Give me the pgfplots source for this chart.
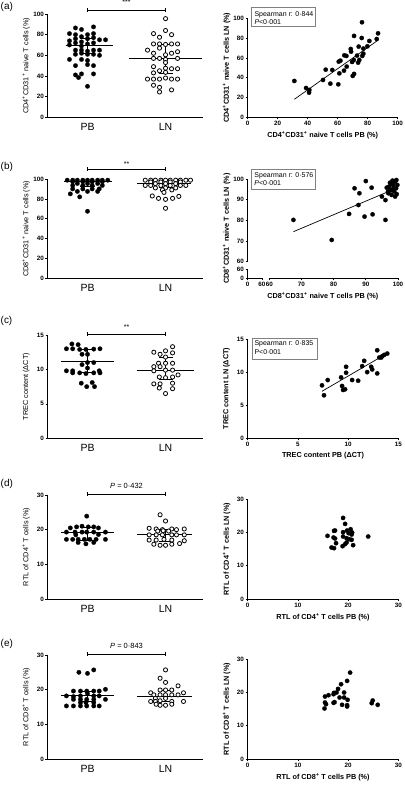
\documentclass[border=0pt]{standalone}
\usepackage{fontspec}
\setmainfont{Liberation Sans}
\usepackage{pgfplots}
\pgfplotsset{compat=1.18}
\pgfplotsset{
  base/.style={scale only axis, anchor=south west, axis lines=left,
    axis line style={-, line width=0.8pt},
    tick align=outside, major tick length=2.2bp,
    every tick/.style={black, line width=0.7pt},
    enlargelimits=false, clip=false,
    /pgf/number format/assume math mode=true,
    ticklabel style={font=\bfseries\fontsize{6.3}{7}\selectfont, inner sep=1.5bp},
    label style={font=\fontsize{7.3}{8.5}\selectfont},
  },
  leftp/.style={base, width=155.3bp, xmin=0.49, xmax=2.48, xtick={1,2}, xticklabels={PB,LN},
    xticklabel style={font=\fontsize{10.5}{12}\selectfont, yshift=-2bp},
    x tick style={draw=none},
    ylabel style={at={(axis description cs:-0.138,0.5)}, anchor=center},
  },
  rightp/.style={base,
    xlabel style={at={(axis description cs:0.5,0)}, yshift=-17.8bp, anchor=center, font=\bfseries\fontsize{7.3}{8.5}\selectfont},
    ylabel style={at={(axis description cs:-0.14,0.5)}, anchor=center, font=\bfseries\fontsize{7.3}{8.5}\selectfont},
  },
  pbdot/.style={only marks, mark=*, mark size=2.25pt, mark options={fill=black, draw=black, line width=0.2pt}},
  lnring/.style={only marks, mark=*, mark size=2.1pt, mark options={fill=white, draw=black, line width=0.8pt}},
  stat/.style={black, line width=0.9pt, no marks},
  sdot/.style={only marks, mark=*, mark size=2.2pt, mark options={fill=black, draw=black, line width=0.2pt}},
  reg/.style={black, line width=0.7pt, no marks},
}
\tikzset{brk/.style={line width=0.7pt, black}}
\newcommand{\sfont}{\fontsize{7}{8}\selectfont}
\newcommand{\pfont}{\fontsize{7.5}{9}\selectfont}
\begin{document}
\begin{tikzpicture}
\useasboundingbox (0,0) rectangle (405bp,785bp);
\node[anchor=west, font=\fontsize{10}{12}\selectfont, inner sep=0] at (0.5bp,778.3bp) {(a)};
\node[anchor=west, font=\fontsize{10}{12}\selectfont, inner sep=0] at (0.5bp,618.3bp) {(b)};
\node[anchor=west, font=\fontsize{10}{12}\selectfont, inner sep=0] at (0.5bp,464bp) {(c)};
\node[anchor=west, font=\fontsize{10}{12}\selectfont, inner sep=0] at (0.5bp,301bp) {(d)};
\node[anchor=west, font=\fontsize{10}{12}\selectfont, inner sep=0] at (0.5bp,141bp) {(e)};

% ---------------- (a) left
\begin{axis}[leftp, at={(47.7bp,667.7bp)}, height=103.3bp, ymin=0, ymax=100, ytick={0,20,40,60,80,100},
  ylabel={CD4\textsuperscript{+}CD31\textsuperscript{+} naive T cells (\%)}]
\addplot[pbdot] coordinates {
(0.846,86.5)(0.923,85)(1.077,87.5)
(0.769,81)(0.846,80)(0.923,78)(1.0,80)(1.077,81)
(0.846,76)(0.923,73)(1.0,76)(1.077,77)(1.154,75)
(0.769,74)(0.846,72)(1.0,71)(1.077,72)(1.231,75)
(0.769,70)(0.923,69)
(0.846,65)(0.923,65)(1.0,64)(1.077,65)(1.154,65)
(0.846,61)(0.923,62)(1.0,61)(1.077,61)(1.154,60)
(0.769,56)(0.923,56)(1.0,55)
(0.846,50)(1.0,51)(1.077,50)
(0.923,42)(1.077,42)(0.846,41)
(0.885,38.5)
(1.0,30)};
\addplot[lnring] coordinates {
(2.0,95.5)(2.0,84)
(1.846,81)(2.077,80)
(1.923,77.5)
(1.846,71)(1.923,71)(2.0,70.5)(2.077,71)(2.154,71)
(1.769,65)(1.923,67)
(1.846,62)(2.0,60.5)(2.077,62)(2.154,63.5)
(1.846,57)(1.923,57)(2.0,56)(2.154,57)
(2.0,53)(1.846,49)(2.0,47.5)
(1.923,45)(2.077,47)(2.154,47)
(1.846,43)(2.0,43.5)
(1.769,37)(1.846,37)(1.923,37)(2.0,38)(2.077,37)(2.154,37)
(1.846,31)(1.923,29)
(1.923,24.5)(2.077,26.5)};
\addplot[stat] coordinates {(0.72,69.4)(1.33,69.4)};
\addplot[stat] coordinates {(1,61.5)(1,76.5)};
\addplot[stat] coordinates {(0.91,61.5)(1.09,61.5)};
\addplot[stat] coordinates {(0.91,76.5)(1.09,76.5)};
\addplot[stat] coordinates {(1.53,57)(2.47,57)};
\addplot[stat] coordinates {(2,42.3)(2,70.6)};
\addplot[stat] coordinates {(1.91,42.3)(2.09,42.3)};
\addplot[stat] coordinates {(1.91,70.6)(2.09,70.6)};
\draw[brk] (axis cs:1,103.9) -- (axis cs:2,103.9);
\draw[brk] (axis cs:1,101.8) -- (axis cs:1,106);
\draw[brk] (axis cs:2,101.8) -- (axis cs:2,106);
\node[anchor=base, inner sep=0, font=\fontsize{7}{8}\selectfont, yshift=5bp] at (axis cs:1.5,103.9) {***};
\end{axis}

% ---------------- (a) right
\begin{axis}[rightp, at={(247.7bp,667.7bp)}, width=150bp, height=99bp,
  xmin=0, xmax=100, ymin=0, ymax=100, xtick={0,20,40,60,80,100}, ytick={0,20,40,60,80,100},
  xlabel={CD4\textsuperscript{+}CD31\textsuperscript{+} naive T cells PB (\%)},
  ylabel={CD4\textsuperscript{+}CD31\textsuperscript{+} naive T cells LN (\%)}]
\addplot[sdot] coordinates {
(31.1,36.7)(38.9,29.6)(41.1,27.6)(40.9,24.9)(50.2,37.7)(52,48.1)(56.4,47.8)(55.1,34)
(60.4,33.3)(61.1,44.4)(60.7,56.2)(61.8,57.2)(64.2,47.1)(64.4,62.6)(65.8,62)(66,51.2)
(68.7,69)(68.9,66.3)(69.6,55.9)(70,41.8)(70.9,43.8)(70.7,57.9)(70.9,82.2)(72.9,62.3)
(73.6,55.2)(74,71.4)(76.2,96)(76,80.1)(76.4,62)(77.1,64.3)(77.1,69.4)(79.8,71.7)
(81.1,77.1)(86,79.1)(86.9,84.8)(74.4,57.9)};
\addplot[reg] coordinates {(31.1,18.2)(87.1,78.1)};
\draw[gray, line width=0.6pt] (axis cs:2.7,91.5) rectangle (axis cs:44.9,111.1);
\node[anchor=west, inner sep=0, font=\sfont] at (axis cs:4.4,104) {Spearman r: 0·844};
\node[anchor=west, inner sep=0, font=\sfont] at (axis cs:4.4,96) {\textit{P}<0·001};
\end{axis}

% ---------------- (b) left
\begin{axis}[leftp, at={(47.7bp,506.7bp)}, height=99.3bp, ymin=0, ymax=100, ytick={0,20,40,60,80,100},
  ylabel={CD8\textsuperscript{+}CD31\textsuperscript{+} naive T cells (\%)}]
\addplot[pbdot] coordinates {
(0.74,98.8)(0.81,98.8)(0.87,98.8)(0.94,98.8)(1.0,98.8)(1.06,98.8)(1.13,98.8)(1.19,98.8)(1.26,98.8)
(0.81,97.3)(0.94,97.3)(1.06,97.3)(1.19,97.3)
(0.87,95.5)(1.0,95.5)(1.13,95.5)
(0.81,93.5)(0.94,93.5)(1.06,93.5)(1.19,93.5)
(0.81,90)(0.94,90)(1.06,90)(1.15,90)
(0.87,87.5)(1.0,87.5)(1.13,87.5)
(0.78,85)(0.9,82)
(1.0,67.5)};
\addplot[lnring] coordinates {
(1.74,98.8)(1.81,98.8)(1.87,98.8)(1.94,98.8)(2.0,98.8)(2.06,98.8)(2.13,98.8)(2.19,98.8)(2.26,98.8)(2.32,98.8)
(1.81,97)(1.94,97)(2.06,97)(2.19,97)
(1.87,95.3)(2.0,95.3)(2.13,95.3)
(1.74,93.5)(1.81,93.5)(1.94,93.5)(2.06,93.5)(2.19,93.5)(2.26,93.5)
(1.87,91)(2.0,91)(2.13,91)
(1.96,89)(2.08,89)
(1.98,86.5)
(1.83,82.9)(1.91,80.5)(2.0,79.5)(2.09,80.5)(2.17,82.5)
(2.0,70.5)};
\addplot[stat] coordinates {(0.7,97.3)(1.32,97.3)};
\addplot[stat] coordinates {(1,92.3)(1,98.8)};
\addplot[stat] coordinates {(0.91,92.3)(1.09,92.3)};
\addplot[stat] coordinates {(1.64,95.3)(2.32,95.3)};
\addplot[stat] coordinates {(2,91)(2,98.5)};
\addplot[stat] coordinates {(1.91,91)(2.09,91)};
\draw[brk] (axis cs:1,110.1) -- (axis cs:2,110.1);
\draw[brk] (axis cs:1,108) -- (axis cs:1,112.2);
\draw[brk] (axis cs:2,108) -- (axis cs:2,112.2);
\node[anchor=base, inner sep=0, font=\fontsize{7}{8}\selectfont, yshift=2bp] at (axis cs:1.5,110.1) {**};
\end{axis}

% ---------------- (b) right (broken axes)
\begin{axis}[rightp, at={(247.7bp,506.7bp)}, width=150.3bp, height=99.3bp,
  axis line style={draw=none},
  xmin=53.29, xmax=100, ymin=51.95, ymax=100,
  xtick={53.29,57.73,60,70,80,90,100}, xticklabels={0,60,60,70,80,90,100},
  ytick={51.95,56.45,60,70,80,90,100}, yticklabels={0,60,60,70,80,90,100},
  xlabel={CD8\textsuperscript{+}CD31\textsuperscript{+} naive T cells PB (\%)},
  ylabel={CD8\textsuperscript{+}CD31\textsuperscript{+} naive T cells LN (\%)}]
\draw[line width=0.8pt] (axis cs:53.29,51.95) -- (axis cs:57.73,51.95);
\draw[line width=0.8pt] (axis cs:60,51.95) -- (axis cs:100,51.95);
\draw[line width=0.8pt] (axis cs:53.29,51.95) -- (axis cs:53.29,56.45);
\draw[line width=0.8pt] (axis cs:53.29,60) -- (axis cs:53.29,100);
\addplot[sdot] coordinates {
(67.5,80.2)(79.4,70.5)(84.8,83.1)(86.5,95.5)(87.7,87.4)(88,93.1)(89.6,81.8)(90,99)
(91.8,95.8)(92.1,82.9)(95,91.5)(96.1,89.8)(96.1,80.2)(96.9,93.9)(97.2,96.3)(97.5,98.2)
(97.8,94.7)(98,92.3)(98.3,99.2)(98.5,97.1)(98.8,94)(99.1,98.7)(99.4,95.5)(99.6,92.7)
(99.1,91.5)(97,93.1)(99.8,97.1)(98.1,97.6)(97.5,94.4)(98.5,95.3)(96.5,95.8)(99.5,99.5)};
\addplot[reg] coordinates {(67.5,74.5)(97,93.9)};
\draw[gray, line width=0.6pt] (axis cs:54.53,95.0) rectangle (axis cs:74.21,104.7);
\node[anchor=west, inner sep=0, font=\sfont] at (axis cs:55.34,101.6) {Spearman r: 0·576};
\node[anchor=west, inner sep=0, font=\sfont] at (axis cs:55.34,97.9) {\textit{P}<0·001};
\end{axis}

% ---------------- (c) left
\begin{axis}[leftp, at={(47.7bp,346.7bp)}, height=103.3bp, ymin=0, ymax=15, ytick={0,5,10,15},
  ylabel={TREC content (ΔCT)}]
\addplot[pbdot] coordinates {
(0.80,13.7)(0.88,13.6)
(0.73,13.0)(0.81,13.0)(0.9,12.9)(0.98,12.9)(1.08,12.95)(1.16,13.0)
(0.93,12.2)(1.0,12.2)
(1.0,11.0)(1.08,11.0)
(0.93,10.7)(1.0,10.2)
(0.73,9.8)(0.81,9.8)(1.15,9.8)
(0.81,9.5)(0.9,9.5)(0.98,9.4)(1.08,9.5)(1.16,9.5)
(0.92,8.0)(1.06,8.1)
(0.99,7.5)(1.09,7.5)};
\addplot[lnring] coordinates {
(2.09,13.3)
(1.85,12.5)(1.93,12.2)(2.0,12.7)(2.09,12.4)
(2.0,11.8)
(1.91,10.9)(2.0,10.9)(2.09,10.9)
(1.85,10.4)(1.93,10.4)
(1.85,9.8)(2.0,9.9)(2.09,9.9)
(2.16,9.2)
(1.92,8.9)(2.0,8.8)(2.09,8.9)
(1.85,7.9)(1.93,7.9)(2.09,8.0)
(1.92,7.3)(2.09,7.2)
(2.0,6.5)};
\addplot[stat] coordinates {(0.66,11.2)(1.34,11.2)};
\addplot[stat] coordinates {(1,9.5)(1,12.9)};
\addplot[stat] coordinates {(0.91,9.5)(1.09,9.5)};
\addplot[stat] coordinates {(0.91,12.9)(1.09,12.9)};
\addplot[stat] coordinates {(1.63,9.8)(2.36,9.8)};
\addplot[stat] coordinates {(2,8.5)(2,11.8)};
\addplot[stat] coordinates {(1.91,8.5)(2.09,8.5)};
\addplot[stat] coordinates {(1.91,11.8)(2.09,11.8)};
\draw[brk] (axis cs:1,15.15) -- (axis cs:2,15.15);
\draw[brk] (axis cs:1,14.85) -- (axis cs:1,15.45);
\draw[brk] (axis cs:2,14.85) -- (axis cs:2,15.45);
\node[anchor=base, inner sep=0, font=\fontsize{7}{8}\selectfont, yshift=4bp] at (axis cs:1.5,15.15) {**};
\end{axis}

% ---------------- (c) right
\begin{axis}[rightp, at={(247.7bp,346.7bp)}, width=150.6bp, height=99.3bp,
  xmin=0, xmax=15, ymin=0, ymax=15, xtick={0,5,10,15}, ytick={0,5,10,15},
  xlabel={TREC content PB (ΔCT)}, ylabel={TREC content LN (ΔCT)}]
\addplot[sdot] coordinates {
(7.4,8.0)(7.6,6.5)(7.97,8.8)(9.3,9.2)(9.4,7.9)(9.5,7.3)(9.7,7.4)(9.8,9.9)(9.8,10.8)
(10.4,8.8)(11.0,8.7)(11.4,10.9)(11.6,11.7)(11.9,10.0)(12.3,10.8)(12.4,10.4)(12.9,13.3)
(12.9,9.8)(13.1,12.2)(13.3,12.2)(13.6,12.6)(13.9,12.8)(13.4,12.4)};
\addplot[reg] coordinates {(7.4,7.1)(13.85,12.8)};
\draw[gray, line width=0.6pt] (axis cs:0.43,11.93) rectangle (axis cs:6.9,15.15);
\node[anchor=west, inner sep=0, font=\sfont] at (axis cs:0.66,14.35) {Spearman r: 0·835};
\node[anchor=west, inner sep=0, font=\sfont] at (axis cs:0.66,13.08) {P<0·001};
\end{axis}

% ---------------- (d) left
\begin{axis}[leftp, at={(47.7bp,186bp)}, height=104bp, ymin=0, ymax=30, ytick={0,10,20,30},
  ylabel={RTL of CD4\textsuperscript{+} T cells (\%)}]
\addplot[pbdot] coordinates {
(0.99,23.9)
(0.78,20.5)(0.86,20.8)(0.93,21.0)(1.01,20.8)(1.08,20.8)(1.14,20.5)
(0.73,19.3)(0.84,19.3)(0.93,19.3)(0.99,19.3)(1.08,19.3)(1.23,19.3)
(0.85,18.5)(1.14,18.6)
(0.73,17.2)(0.81,17.2)(0.88,17.2)(0.96,17.2)(1.03,17.2)(1.11,17.2)(1.23,17.2)
(0.88,16.3)(1.08,16.3)
(0.98,15.9)};
\addplot[lnring] coordinates {
(1.93,24.3)(2.0,22.5)
(1.79,20.4)(1.88,20.2)(1.96,20.0)(2.08,20.2)(2.14,20.0)(2.24,20.2)
(1.9,19.6)(1.97,19.7)(2.04,19.6)
(1.79,18.5)(1.88,18.5)(1.96,18.5)(2.08,18.5)(2.14,18.5)(2.24,18.5)
(1.79,17.0)(1.88,17.0)(1.98,17.2)(2.08,17.0)(2.24,16.8)
(1.85,15.8)(1.93,15.5)(2.0,15.5)(2.08,15.8)(2.18,16.0)};
\addplot[stat] coordinates {(0.66,19.1)(1.34,19.1)};
\addplot[stat] coordinates {(1,17.0)(1,20.7)};
\addplot[stat] coordinates {(0.91,17.0)(1.09,17.0)};
\addplot[stat] coordinates {(0.91,20.7)(1.09,20.7)};
\addplot[stat] coordinates {(1.64,18.5)(2.34,18.5)};
\addplot[stat] coordinates {(2,16.7)(2,20.1)};
\addplot[stat] coordinates {(1.91,16.7)(2.09,16.7)};
\addplot[stat] coordinates {(1.91,20.1)(2.09,20.1)};
\draw[brk] (axis cs:1,30.3) -- (axis cs:2,30.3);
\draw[brk] (axis cs:1,29.7) -- (axis cs:1,30.9);
\draw[brk] (axis cs:2,29.7) -- (axis cs:2,30.9);
\node[anchor=base, inner sep=0, font=\pfont, yshift=5bp] at (axis cs:1.5,30.3) {\textit{P} = 0·432};
\end{axis}

% ---------------- (d) right
\begin{axis}[rightp, at={(247.7bp,186bp)}, width=150.6bp, height=99.7bp,
  xmin=0, xmax=30, ymin=0, ymax=30, xtick={0,10,20,30}, ytick={0,10,20,30},
  xlabel={RTL of CD4\textsuperscript{+} T cells PB (\%)}, ylabel={RTL of CD4\textsuperscript{+} T cells LN (\%)}]
\addplot[sdot] coordinates {
(15.9,19)(16.7,15.5)(17.2,15.3)(17.1,18.5)(17.4,20.6)(17.4,18.2)(17.6,16.8)(17.2,20.5)
(19.0,24.4)(19.4,22.6)(19.0,20.1)(18.9,15.9)(19.4,16.5)(19.7,17)(19.0,18.8)(19.8,20.6)
(20.1,19.8)(20.5,21)(20.2,18)(20.8,20)(20.7,19.4)(20.7,17.8)(21,16.2)(24,18.8)(19.7,18.3)};
\end{axis}

% ---------------- (e) left
\begin{axis}[leftp, at={(47.7bp,26bp)}, height=104bp, ymin=0, ymax=30, ytick={0,10,20,30},
  ylabel={RTL of CD8\textsuperscript{+} T cells (\%)}]
\addplot[pbdot] coordinates {
(1.08,25.7)(0.89,25.0)(1.0,24.7)
(1.23,20.1)
(0.82,19.6)(0.91,19.6)(0.99,19.6)(1.08,19.6)(1.15,19.6)
(1.0,18.9)
(0.73,18.2)(0.82,18.0)(0.91,18.2)(1.08,18.2)(1.15,18.2)
(0.82,17.2)(0.91,17.2)(0.99,17.2)(1.08,17.2)(1.23,17.2)
(0.91,16.3)(0.98,16.3)(1.08,16.3)
(0.73,15.3)(0.82,15.3)(0.91,15.3)(0.99,15.3)(1.08,15.3)(1.15,15.3)};
\addplot[lnring] coordinates {
(2.0,25.7)(1.93,23.3)(2.0,22.1)(2.16,21.1)
(1.93,19.9)(2.0,19.9)(2.08,19.9)
(1.81,19.1)(2.23,19.1)
(1.85,18.5)(1.93,18.5)(2.0,18.5)(2.08,18.5)(2.16,18.5)
(1.87,17.5)(2.0,17.5)
(1.81,16.6)(1.87,16.6)(1.93,16.8)(2.08,16.6)(2.23,16.6)
(1.88,15.8)(1.93,15.5)(2.0,15.5)(2.08,15.8)};
\addplot[stat] coordinates {(0.66,18.3)(1.34,18.3)};
\addplot[stat] coordinates {(1,16.7)(1,19.6)};
\addplot[stat] coordinates {(0.91,16.7)(1.09,16.7)};
\addplot[stat] coordinates {(0.91,19.6)(1.09,19.6)};
\addplot[stat] coordinates {(1.64,18.0)(2.34,18.0)};
\addplot[stat] coordinates {(2,16.5)(2,19.9)};
\addplot[stat] coordinates {(1.91,16.5)(2.09,16.5)};
\addplot[stat] coordinates {(1.91,19.9)(2.09,19.9)};
\draw[brk] (axis cs:1,30.3) -- (axis cs:2,30.3);
\draw[brk] (axis cs:1,29.7) -- (axis cs:1,30.9);
\draw[brk] (axis cs:2,29.7) -- (axis cs:2,30.9);
\node[anchor=base, inner sep=0, font=\pfont, yshift=5bp] at (axis cs:1.5,30.3) {\textit{P} = 0·843};
\end{axis}

% ---------------- (e) right
\begin{axis}[rightp, at={(247.7bp,26bp)}, width=150.6bp, height=99.7bp,
  xmin=0, xmax=30, ymin=0, ymax=30, xtick={0,10,20,30}, ytick={0,10,20,30},
  xlabel={RTL of CD8\textsuperscript{+} T cells PB (\%)}, ylabel={RTL of CD8\textsuperscript{+} T cells LN (\%)}]
\addplot[sdot] coordinates {
(15.3,15.2)(15.4,17)(15.6,16.5)(15.4,18.8)(16.1,19.2)(17.1,19.5)(17.2,19.9)(17.1,16.9)
(17.3,17.1)(17.7,20)(18,21.1)(18.3,18.5)(18.6,22.5)(18.8,16.3)(19.2,18.5)(19.2,20)
(19.8,16.2)(19.9,17.8)(19.8,23.5)(20.4,26)(19.8,15.8)(24.7,16.8)(24.9,17.6)(25.9,16.3)};
\end{axis}
\end{tikzpicture}
\end{document}
